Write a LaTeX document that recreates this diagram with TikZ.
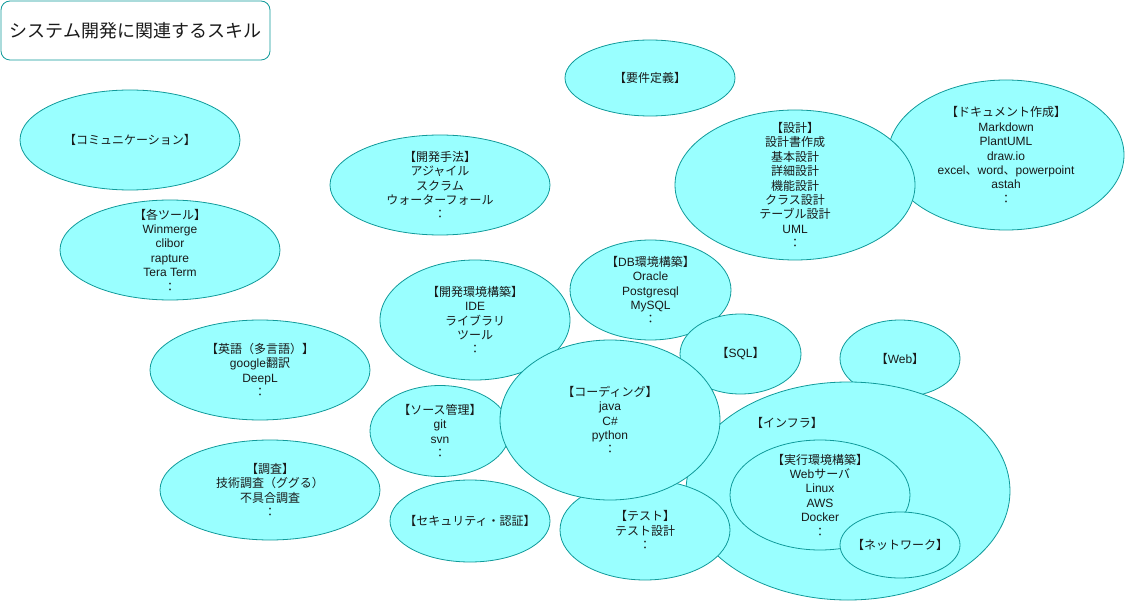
\documentclass[tikz,border=0pt]{standalone}
\usepackage{fontspec}
\setmainfont{Liberation Sans}
\newfontfamily\jafont{Noto Sans CJK JP}
\usetikzlibrary{shapes.geometric}
\definecolor{bfill}{HTML}{99FFFF}
\definecolor{bstroke}{HTML}{109A9A}
\definecolor{txtc}{HTML}{1A1A1A}
\newcommand\J[1]{{\jafont #1}}
\begin{document}
\begin{tikzpicture}[x=1pt,y=-1pt,
  bubble/.style={ellipse, draw=bstroke, fill=bfill, line width=0.8pt, inner sep=0pt},
  txt/.style={align=center, inner sep=0pt, text=txtc, font=\fontsize{12}{14.4}\selectfont},
  titlebox/.style={draw=bstroke, fill=white, rounded corners=9pt, line width=0.8pt, inner sep=0pt, text=txtc, font=\fontsize{18}{21}\selectfont\jafont}]
\useasboundingbox (0,0) rectangle (1126,601);
\fill[white] (0,0) rectangle (1126,601);

\node[titlebox, minimum width=269pt, minimum height=59pt] (title) at (135.5,30.5) {システム開発に関連するスキル};

\node[bubble, minimum width=170pt, minimum height=76pt] (req) at (650,78) {};
\node[txt] (reqt) at (req.center) {\J{【要件定義】}};

\node[bubble, minimum width=220pt, minimum height=100pt] (comm) at (130,140) {};
\node[txt] (commt) at (comm.center) {\J{【コミュニケーション】}};

\node[bubble, minimum width=220pt, minimum height=100pt] (method) at (440,185) {};
\node[txt] (methodt) at (method.center) {\J{【開発手法】}\\\J{アジャイル}\\\J{スクラム}\\\J{ウォーターフォール}\\\J{：}};

\node[bubble, minimum width=236pt, minimum height=150pt] (doc) at (1006,155) {};
\node[txt] (doct) at (doc.center) {\J{【ドキュメント作成】}\\Markdown\\PlantUML\\draw.io\\excel\J{、}word\J{、}powerpoint\\astah\\\J{：}};

\node[bubble, minimum width=240pt, minimum height=150pt] (design) at (795,185) {};
\node[txt] (designt) at (design.center) {\J{【設計】}\\\J{設計書作成}\\\J{基本設計}\\\J{詳細設計}\\\J{機能設計}\\\J{クラス設計}\\\J{テーブル設計}\\UML\\\J{：}};

\node[bubble, minimum width=220pt, minimum height=100pt] (tools) at (170,250) {};
\node[txt] (toolst) at (tools.center) {\J{【各ツール】}\\Winmerge\\clibor\\rapture\\Tera Term\\\J{：}};

\node[bubble, minimum width=161pt, minimum height=100pt] (db) at (650.5,290) {};
\node[txt] (dbt) at (db.center) {\J{【}DB\J{環境構築】}\\Oracle\\Postgresql\\MySQL\\\J{：}};

\node[bubble, minimum width=190pt, minimum height=120pt] (devenv) at (475,320) {};
\node[txt] (devenvt) at (devenv.center) {\J{【開発環境構築】}\\IDE\\\J{ライブラリ}\\\J{ツール}\\\J{：}};

\node[bubble, minimum width=220pt, minimum height=100pt] (eng) at (260,370) {};
\node[txt] (engt) at (eng.center) {\J{【英語（多言語）】}\\google\J{翻訳}\\DeepL\\\J{：}};

\node[bubble, minimum width=220pt, minimum height=100pt] (research) at (270,490) {};
\node[txt] (researcht) at (research.center) {\J{【調査】}\\\J{技術調査（ググる）}\\\J{不具合調査}\\\J{：}};

\node[bubble, minimum width=121pt, minimum height=80pt] (sql) at (740.5,354) {};
\node[txt] (sqlt) at (sql.center) {\J{【}SQL\J{】}};

\node[bubble, minimum width=120pt, minimum height=77pt] (web) at (900,358.5) {};
\node[txt] (webt) at (web.center) {\J{【}Web\J{】}};

\node[bubble, minimum width=324pt, minimum height=218pt] (infra) at (848,491) {};
\node[txt] (infrat) at (787,423) {\J{【インフラ】}};

\node[bubble, minimum width=180pt, minimum height=110pt] (exec) at (820,495) {};
\node[txt] (exect) at (exec.center) {\J{【実行環境構築】}\\Web\J{サーバ}\\Linux\\AWS\\Docker\\\J{：}};

\node[bubble, minimum width=120pt, minimum height=66pt] (net) at (900,545) {};
\node[txt] (nett) at (net.center) {\J{【ネットワーク】}};

\node[bubble, minimum width=160pt, minimum height=82pt] (sec) at (470,521) {};
\node[txt] (sect) at (sec.center) {\J{【セキュリティ・認証】}};

\node[bubble, minimum width=170pt, minimum height=100pt] (test) at (645,530) {};
\node[txt] (testt) at (test.center) {\J{【テスト】}\\\J{テスト設計}\\\J{：}};

\node[bubble, minimum width=140pt, minimum height=91pt] (src) at (440,431) {};
\node[txt] (srct) at (src.center) {\J{【ソース管理】}\\git\\svn\\\J{：}};

\node[bubble, minimum width=220pt, minimum height=160pt] (coding) at (610,420) {};
\node[txt] (codingt) at (coding.center) {\J{【コーディング】}\\java\\C\#\\python\\\J{：}};
\end{tikzpicture}
\end{document}
